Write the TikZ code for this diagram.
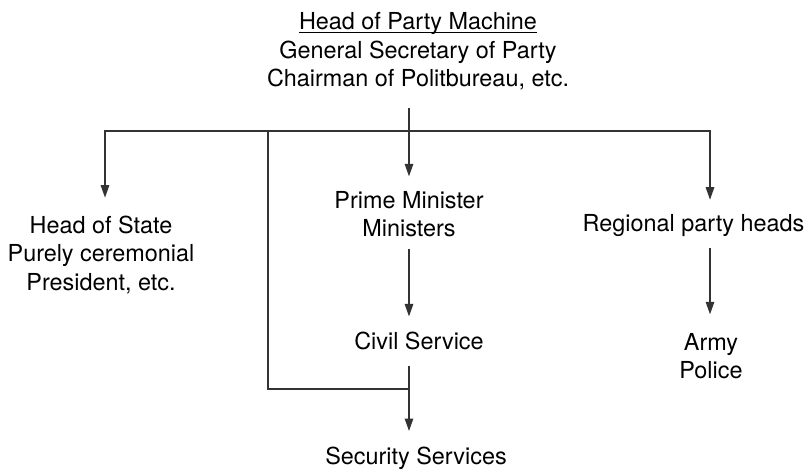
\documentclass[tikz,border=0pt]{standalone}
\usepackage{fontspec}
\setmainfont{TeX Gyre Heros}
\usetikzlibrary{arrows.meta}

% underlined heading line
\newcommand\headrule[1]{\setbox0\hbox{#1}\rlap{\rule[-3.3pt]{\wd0}{1.3pt}}\box0}

\begin{document}
\begin{tikzpicture}[x=1pt,y=-1pt,
  conn/.style={draw=black!80,line width=1.3pt},
  arr/.style={conn,-{Triangle[width=8.5pt,length=12.5pt]}},
  lbl/.style={inner sep=0pt,align=center,font=\fontsize{23.4}{28.5}\selectfont}]
\useasboundingbox (0,0) rectangle (806,469);

% text blocks
\node[lbl] (top) at (418,51.3) {\headrule{Head of Party Machine}\\General Secretary of Party\\Chairman of Politbureau, etc.};
\node[lbl] (hos) at (101,254.8) {Head of State\\Purely ceremonial\\President, etc.};
\node[lbl] (pm)  at (409,214) {Prime Minister\\Ministers};
\node[lbl] (rph) at (693.5,226) {Regional party heads};
\node[lbl] (cs)  at (419,340.6) {Civil Service};
\node[lbl] (ap)  at (711,356) {Army\\Police};
\node[lbl] (ss)  at (416,458.5) {Security Services};

% junction points of the bus lines
\coordinate (hub)  at (409,131);
\coordinate (busB) at (268,131);
\coordinate (secJ) at (409,389);

% top down to the ministers
\draw[arr,shorten <=18pt,shorten >=14.5pt] (top.south -| pm.north) -- (pm.north);
% horizontal bus to head of state and regional heads
\draw[arr,shorten >=18pt] (hub) -| ([xshift=4pt]hos.north);
\draw[arr,shorten >=15pt] (hub) -| ([xshift=16.5pt]rph.north);
% branch to the security services
\draw[conn] (busB) |- (secJ);
% lower chains
\draw[arr,shorten <=11.5pt,shorten >=15pt] (pm.south) -- (pm.south |- cs.north);
\draw[arr,shorten <=16pt,shorten >=16pt] (cs.south -| secJ) -- (ss.north -| secJ);
\draw[arr,shorten <=11pt,shorten >=18.5pt] ([xshift=16.5pt]rph.south) -- ([xshift=16.5pt]rph.south |- ap.north);
\end{tikzpicture}
\end{document}
